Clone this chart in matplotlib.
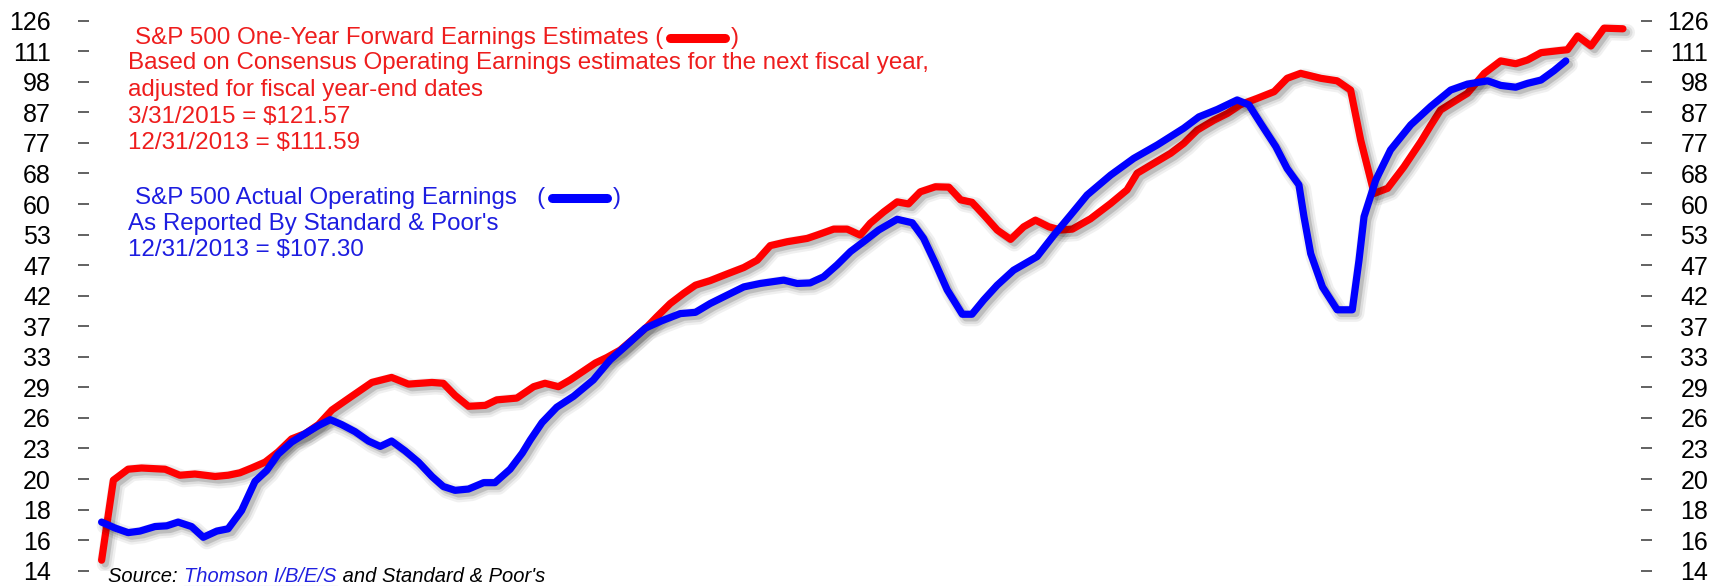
import numpy as np
import matplotlib
matplotlib.use('Agg')
import matplotlib.pyplot as plt
import matplotlib.patheffects as pe
from matplotlib.lines import Line2D
from matplotlib.ticker import FixedLocator, NullLocator

plt.rcParams['font.family'] = ['Liberation Sans', 'DejaVu Sans']

# forward earnings (red)
fwd_year = [1979.00, 1979.28, 1979.63, 1979.95, 1980.51, 1980.86, 1981.22, 1981.70, 1982.01, 1982.29,
            1982.57, 1982.89, 1983.20, 1983.52, 1983.84, 1984.16, 1984.48, 1984.95, 1985.43, 1985.90,
            1986.30, 1986.86, 1987.13, 1987.41, 1987.73, 1988.13, 1988.40, 1988.88, 1989.28, 1989.55,
            1989.87, 1990.15, 1990.47, 1990.75, 1991.02, 1991.34, 1991.66, 1991.98, 1992.21, 1992.53,
            1992.85, 1993.13, 1993.48, 1993.88, 1994.28, 1994.60, 1994.91, 1995.31, 1995.79, 1996.02,
            1996.42, 1996.74, 1997.05, 1997.29, 1997.61, 1997.93, 1998.20, 1998.48, 1998.84, 1999.16,
            1999.44, 1999.71, 1999.99, 2000.31, 2000.63, 2000.94, 2001.22, 2001.54, 2001.82, 2002.10,
            2002.53, 2003.01, 2003.40, 2003.64, 2004.04, 2004.44, 2004.75, 2005.07, 2005.47, 2005.79,
            2006.10, 2006.50, 2006.90, 2007.21, 2007.53, 2008.01, 2008.40, 2008.72, 2008.96, 2009.28,
            2009.60, 2009.99, 2010.39, 2010.63, 2010.86, 2011.18, 2011.50, 2011.90, 2012.29, 2012.65,
            2012.93, 2013.25, 2013.72, 2013.88, 2014.12, 2014.44, 2014.75, 2015.20]
fwd_eps = [14.6, 20.1, 21.0, 21.1, 21.0, 20.5, 20.6, 20.4, 20.5, 20.7,
           21.1, 21.6, 22.5, 23.7, 24.2, 25.1, 26.6, 28.1, 29.7, 30.3,
           29.5, 29.7, 29.6, 28.2, 27.0, 27.1, 27.7, 27.9, 29.2, 29.6,
           29.2, 30.0, 31.1, 32.1, 32.8, 33.8, 35.4, 37.1, 38.6, 40.7,
           42.4, 43.8, 44.6, 45.8, 47.0, 48.4, 51.3, 52.1, 52.8, 53.5,
           54.8, 54.8, 53.5, 56.1, 58.7, 61.1, 60.6, 63.6, 64.9, 64.8,
           61.6, 61.0, 58.0, 54.6, 52.6, 55.3, 56.8, 55.3, 54.6, 54.8,
           57.1, 60.7, 64.1, 68.5, 71.3, 74.2, 77.2, 81.4, 84.7, 87.0,
           90.1, 92.4, 94.9, 100.1, 102.1, 100.1, 99.1, 95.5, 78.2, 63.2,
           64.5, 70.3, 77.7, 83.0, 88.2, 91.2, 94.3, 102.1, 107.3, 106.1,
           107.7, 110.9, 111.9, 112.2, 118.5, 113.9, 122.3, 122.0]

# actual operating earnings (blue)
act_year = [1979.00, 1979.32, 1979.63, 1979.91, 1980.27, 1980.55, 1980.82, 1981.14, 1981.42, 1981.74,
            1982.01, 1982.33, 1982.65, 1982.93, 1983.20, 1983.52, 1983.84, 1984.16, 1984.44, 1984.71,
            1985.03, 1985.35, 1985.63, 1985.90, 1986.22, 1986.54, 1986.86, 1987.13, 1987.41, 1987.73,
            1988.09, 1988.36, 1988.72, 1989.01, 1989.20, 1989.48, 1989.83, 1990.23, 1990.70, 1991.10,
            1991.50, 1991.94, 1992.33, 1992.77, 1993.13, 1993.48, 1993.80, 1994.28, 1994.67, 1995.23,
            1995.55, 1995.86, 1996.18, 1996.50, 1996.82, 1997.13, 1997.49, 1997.93, 1998.29, 1998.56,
            1998.84, 1999.12, 1999.48, 1999.71, 1999.99, 2000.31, 2000.70, 2001.26, 2001.66, 2002.06,
            2002.45, 2003.01, 2003.56, 2004.12, 2004.75, 2005.11, 2005.55, 2006.02, 2006.30, 2006.58,
            2006.94, 2007.21, 2007.49, 2007.61, 2007.77, 2008.05, 2008.40, 2008.76, 2008.92, 2009.04,
            2009.32, 2009.67, 2010.15, 2010.63, 2011.10, 2011.50, 2011.98, 2012.29, 2012.65, 2012.93,
            2013.25, 2013.56, 2013.84]
act_eps = [17.0, 16.6, 16.3, 16.4, 16.7, 16.75, 17.0, 16.7, 16.0, 16.4,
           16.55, 17.8, 20.0, 20.9, 22.3, 23.4, 24.2, 25.0, 25.6, 25.1,
           24.4, 23.5, 23.0, 23.5, 22.6, 21.6, 20.4, 19.6, 19.3, 19.4,
           19.9, 19.9, 21.0, 22.4, 23.6, 25.3, 26.9, 28.1, 30.0, 32.5,
           34.5, 36.9, 38.0, 39.1, 39.3, 40.7, 41.8, 43.5, 44.1, 44.7,
           44.1, 44.2, 45.3, 47.5, 50.1, 52.1, 54.6, 57.0, 56.2, 52.8,
           47.8, 43.0, 39.0, 39.0, 41.3, 43.8, 46.5, 49.1, 53.5, 58.0,
           62.8, 68.0, 72.7, 76.7, 82.0, 85.8, 88.4, 91.8, 90.0, 83.6,
           76.2, 69.8, 65.4, 57.6, 49.7, 43.5, 39.7, 39.7, 48.4, 57.6,
           66.7, 75.2, 83.1, 89.5, 95.5, 97.8, 99.1, 97.3, 96.6, 98.1,
           99.4, 103.2, 107.3]

tick_labels = ['14', '16', '18', '20', '23', '26', '29', '33', '37', '42',
               '47', '53', '60', '68', '77', '87', '98', '111', '126']

red_lines = ['Based on Consensus Operating Earnings estimates for the next fiscal year,',
             'adjusted for fiscal year-end dates',
             '3/31/2015 = $121.57',
             '12/31/2013 = $111.59']
blue_lines = ["As Reported By Standard & Poor's",
              '12/31/2013 = $107.30']

W, H = 1725, 586
RED, BLUE = '#ff0000', '#0000ff'
RED_TXT, BLUE_TXT = '#ee1d1d', '#1d1de0'

fig = plt.figure(figsize=(W / 100, H / 100), dpi=100)
ax = fig.add_axes([89 / W, (H - 570.7) / H, (1641 - 89) / W, (570.7 - 20.7) / H])

lw = 5.2
def shadow():
    return [pe.SimpleLineShadow(offset=(2.6, -2.6), shadow_color='k', alpha=0.06, linewidth=lw + 7),
            pe.SimpleLineShadow(offset=(2.6, -2.6), shadow_color='k', alpha=0.08, linewidth=lw + 3.5),
            pe.SimpleLineShadow(offset=(2.6, -2.6), shadow_color='k', alpha=0.14, linewidth=lw),
            pe.Normal()]

ax.plot(fwd_year, fwd_eps, color=RED, lw=lw, solid_capstyle='round', solid_joinstyle='round',
        path_effects=shadow())
ax.plot(act_year, act_eps, color=BLUE, lw=lw, solid_capstyle='round', solid_joinstyle='round',
        path_effects=shadow())

ax.set_yscale('log')
ax.set_ylim(14, 126)
ax.set_xlim(1978.70, 2015.63)
tick_pos = 14 * 9 ** (np.arange(len(tick_labels)) / 18)
ax.yaxis.set_major_locator(FixedLocator(tick_pos))
ax.yaxis.set_minor_locator(NullLocator())
ax.set_yticklabels(tick_labels)
ax.set_xticks([])
for s in ax.spines.values():
    s.set_visible(False)
ax.tick_params(axis='y', length=8, width=1.3, color='#555555', pad=19.5, labelsize=18, direction='out')

ax2 = ax.twinx()
ax2.set_yscale('log')
ax2.set_ylim(14, 126)
ax2.yaxis.set_major_locator(FixedLocator(tick_pos))
ax2.yaxis.set_minor_locator(NullLocator())
ax2.set_yticklabels(tick_labels)
for s in ax2.spines.values():
    s.set_visible(False)
ax2.tick_params(axis='y', length=8, width=1.3, color='#555555', pad=40.5, labelsize=18, direction='out')
for lbl in ax2.get_yticklabels():
    lbl.set_horizontalalignment('right')

fs = 17.4
def ftext(x, y, s, **kw):
    return fig.text(x / W, 1 - y / H, s, va='center', ha='left', **kw)

t_red = ftext(135, 38, 'S&P 500 One-Year Forward Earnings Estimates (', color=RED_TXT, fontsize=fs)
for i, s in enumerate(red_lines):
    ftext(128, 63.5 + 26.6 * i, s, color=RED_TXT, fontsize=fs)
t_blue = ftext(135, 198, 'S&P 500 Actual Operating Earnings   (', color=BLUE_TXT, fontsize=fs)
for i, s in enumerate(blue_lines):
    ftext(128, 224 + 26 * i, s, color=BLUE_TXT, fontsize=fs)

fig.canvas.draw()
r = fig.canvas.get_renderer()

def legend_sample(t, color, y):
    bb = t.get_window_extent(r)
    x0 = bb.x1 + 7
    x1 = x0 + 55
    fig.add_artist(Line2D([x0 / W, x1 / W], [1 - y / H] * 2, transform=fig.transFigure,
                          color=color, lw=6.5, solid_capstyle='round'))
    ftext(x1 + 6, y, ')', color=t.get_color(), fontsize=fs)

legend_sample(t_red, RED, 38)
legend_sample(t_blue, BLUE, 198)

# source line, pieced together
sfs = 14.5
x = 108
for s, c in [('Source: ', 'black'), ('Thomson I/B/E/S', '#2020e0'), (" and Standard & Poor's", 'black')]:
    t = ftext(x, 577, s, color=c, fontsize=sfs, style='italic')
    bb = t.get_window_extent(r)
    if c != 'black':
        fig.add_artist(Line2D([bb.x0 / W, bb.x1 / W], [(bb.y0 + 1) / H] * 2, transform=fig.transFigure,
                              color='#9999cc', lw=0.8))
    x = bb.x1 + (1 if s.endswith(' ') else 0)

fig.savefig('out.png', dpi=100)
